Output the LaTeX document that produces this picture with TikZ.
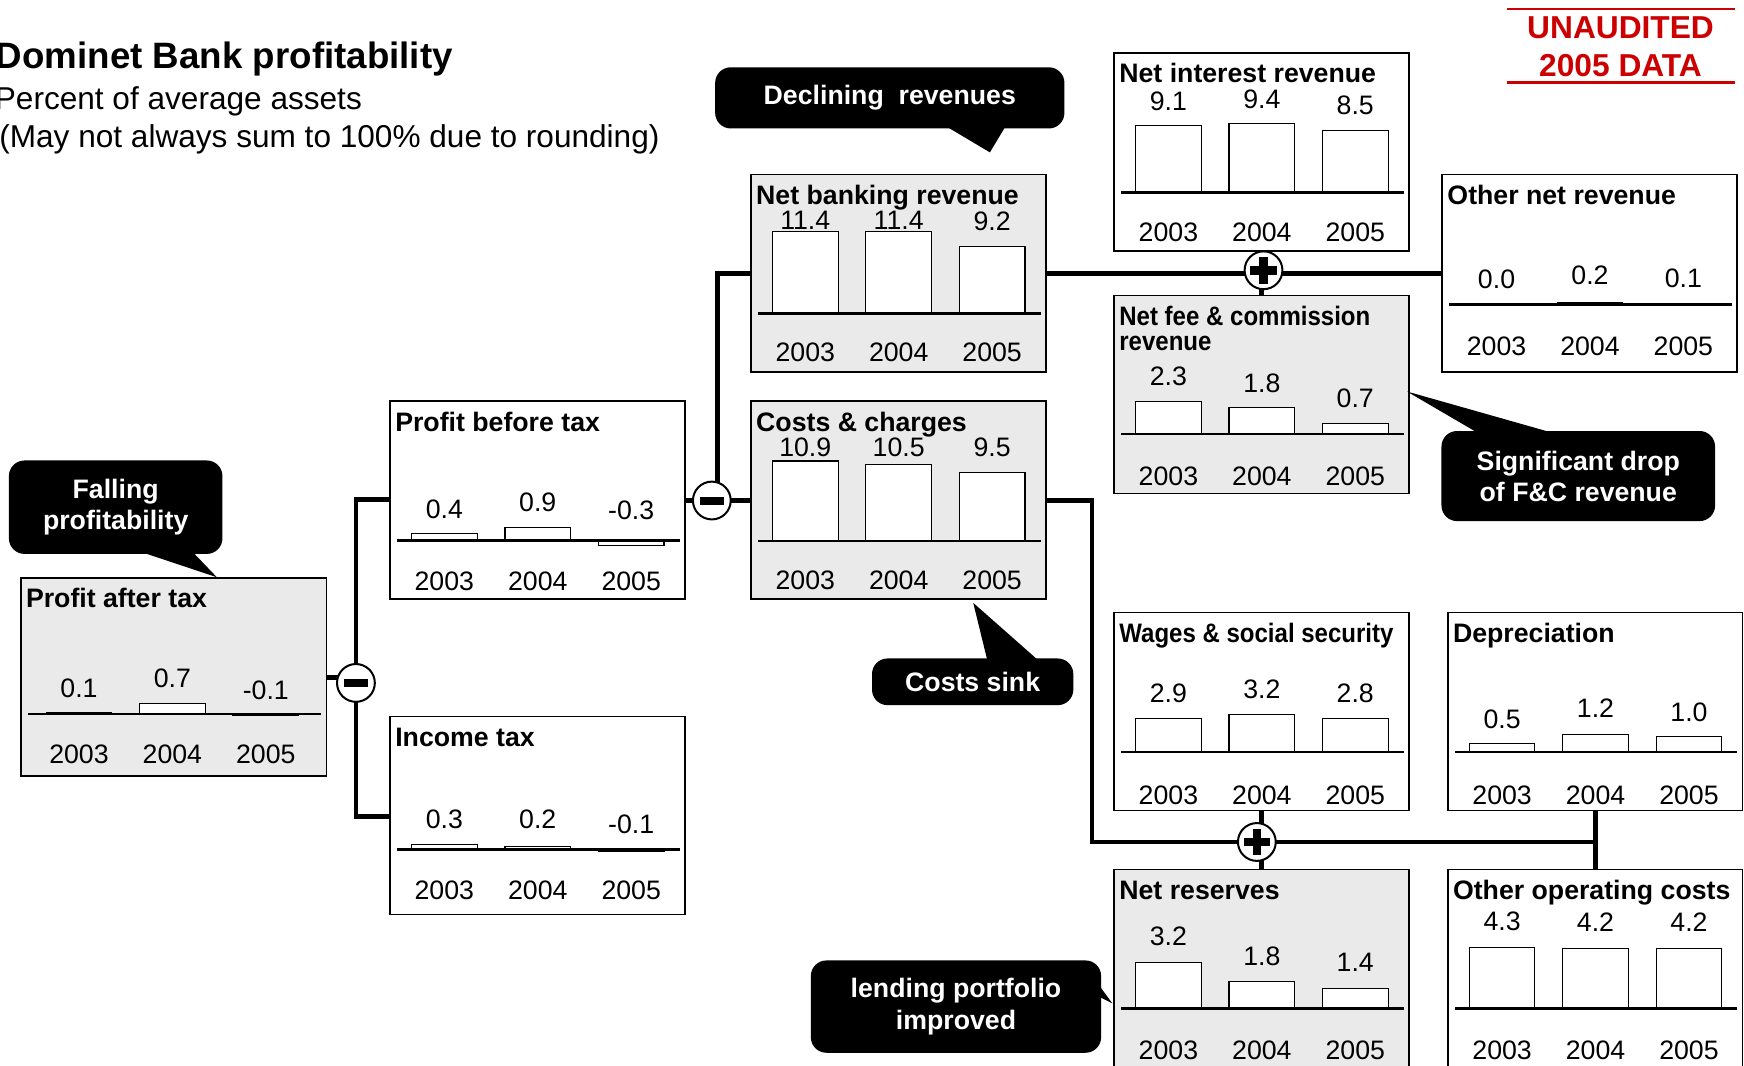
\documentclass[tikz,border=0pt]{standalone}
\usepackage{fontspec}
\setmainfont{Liberation Sans}
\usetikzlibrary{calc,backgrounds}
\definecolor{udred}{RGB}{204,0,0}
\definecolor{boxgrey}{RGB}{234,234,234}
\tikzset{
  chartbox/.style={draw, line width=0.7pt, inner sep=0pt, minimum height=89pt},
  greybox/.style={fill=boxgrey},
  whitebox/.style={fill=white},
  ttl/.style={font=\bfseries\fontsize{12}{14}\selectfont, inner sep=0pt},
  val/.style={font=\fontsize{12}{14}\selectfont, inner sep=0pt},
  barrect/.style={draw, fill=white, line width=0.5pt},
  axisline/.style={line width=1.2pt},
  conn/.style={line width=2.1pt},
  op/.style={circle, draw, fill=white, minimum size=17pt, inner sep=0pt, line width=0.9pt},
  minusop/.style={op, path picture={\fill[black] ([shift={(-5.5pt,-1.8pt)}]path picture bounding box.center) rectangle ++(11pt,3.6pt);}},
  plusop/.style={op, path picture={
      \fill[black] ([shift={(-6pt,-1.9pt)}]path picture bounding box.center) rectangle ++(12pt,3.8pt);
      \fill[black] ([shift={(-1.9pt,-6pt)}]path picture bounding box.center) rectangle ++(3.8pt,12pt);}},
  callout/.style={fill=black, text=white, rounded corners=7pt, font=\bfseries\fontsize{12}{14}\selectfont, align=center, inner sep=0pt},
  udtxt/.style={text=udred, font=\bfseries\fontsize{14.25}{17}\selectfont, inner sep=0pt},
  udline/.style={draw=udred, line width=1.2pt},
  headtxt/.style={anchor=base west, inner sep=0pt}
}
% #1 name, #2 fill style, #3 x, #4 y, #5 width, #6 title, #7 baseline, #8 year label y, #9 list h/labely/label
\newcommand\chart[9]{%
  \node[chartbox,#2,minimum width=#5*0.5pt,anchor=north west] (#1) at (#3,#4) {};
  \pgfmathsetmacro\chOff{(#5-265)*0.35}
  \foreach \h/\ly/\lab [count=\i from 0] in {#9} {
    \pgfmathsetmacro\cx{#3+49.5+84*\i+\chOff}
    \pgfmathsetmacro\cy{#4+#7-(\h)}
    \draw[barrect] ({\cx-29.5},{#4+#7}) rectangle ({\cx+29.5},\cy);
    \node[val] (#1-v\i) at (\cx,{#4+\ly}) {\lab};
    \node[val] (#1-y\i) at (\cx,{#4+#8}) {\the\numexpr2003+\i\relax};
  }
  \draw[axisline] ({#3+7},{#4+#7}) -- ({#3+#5-4},{#4+#7});
  \node[ttl,anchor=base west] (#1-t) at ({#3+5},{#4+27.5}) {#6};
}
\begin{document}
\begin{tikzpicture}[x=0.5pt,y=-0.5pt]
\useasboundingbox (0,0) rectangle (1568,958);

% heading
\node[headtxt, font=\bfseries\fontsize{16.5}{20}\selectfont] (title) at (-4,61.5) {Dominet Bank profitability};
\node[headtxt, font=\fontsize{14.2}{17}\selectfont] (sub1) at (-5,98.5) {Percent of average assets};
\node[headtxt, font=\fontsize{14.2}{17}\selectfont] (sub2) at (-1,132.5) {(May not always sum to 100\% due to rounding)};

% unaudited
\node[udtxt] (ua1) at (1457,25) {UNAUDITED};
\node[udtxt] (ua2) at (1457,59) {2005 DATA};
\draw[udline] (1355,8) -- (1560,8);
\draw[udline] (1355,74) -- (1560,74);

% charts
\chart{PAT}{greybox}{18}{519}{275}{Profit after tax}{123}{159}{1.2/100/0.1, 9.6/91/0.7, -1.2/101.5/-0.1}
\chart{PBT}{whitebox}{350}{360}{265}{Profit before tax}{126}{163}{6/97.6/0.4, 11.4/91.4/0.9, -4.6/99.2/-0.3}
\chart{IT}{whitebox}{350}{643.5}{265}{Income tax}{120.3}{157}{4.2/93/0.3, 2.8/93/0.2, -2/97.6/-0.1}
\chart{NBR}{greybox}{674.5}{156}{265}{Net banking revenue}{126}{161}{74/42/11.4, 74/42/11.4, 60/43/9.2}
\chart{CC}{greybox}{674.5}{360}{265}{Costs \& charges}{126.5}{162}{72/42/10.9, 69/42/10.5, 62/42/9.5}
\chart{NIR}{whitebox}{1001}{47}{265}{Net interest revenue}{126}{162}{60/44.4/9.1, 61.7/42/9.4, 55.7/48/8.5}
\chart{ONR}{whitebox}{1296}{156}{265}{Other net revenue}{117.6}{155.5}{0/95/0.0, 2/91.5/0.2, 1/94/0.1}
\chart{NFC}{greybox}{1001}{265}{265}{\scalebox{0.9}[1]{Net fee \& commission}}{125.3}{163.6}{29.7/73.7/2.3, 24/80/1.8, 9.7/93/0.7}
\node[ttl,anchor=base west] (NFC-t2) at ($(NFC.north west)+(5,50)$) {\scalebox{0.9}[1]{revenue}};
\chart{WSS}{whitebox}{1001}{550}{265}{\scalebox{0.9}[1]{Wages \& social security}}{126}{165}{30/73/2.9, 34/70/3.2, 30/73/2.8}
\chart{DEP}{whitebox}{1301}{550}{265}{Depreciation}{126}{165}{7.5/97/0.5, 16/87/1.2, 13.5/90/1.0}
\chart{NR}{greybox}{1001}{781}{265}{Net reserves}{125.5}{163}{41/60.5/3.2, 24/78.5/1.8, 18/84.5/1.4}
\chart{OOC}{whitebox}{1301}{781}{265}{Other operating costs}{126}{163}{55.5/47/4.3, 54/48.5/4.2, 54/48.5/4.2}

% operators
\node[minusop] (m1) at (320,614) {};
\node[minusop] (m2) at (640,450) {};
\node[plusop] (p1) at (1136,243) {};
\node[plusop] (p2) at (1130,757) {};

% callouts
\node[callout, minimum width=96pt, minimum height=42pt] (c1) at (104,456) {Falling\\profitability};
\fill (120,494) -- (195,519) -- (171,494) -- cycle;
\node[callout, minimum width=157pt, minimum height=27.5pt] (c2) at (800,88) {Declining\ \ revenues};
\fill (848,112) -- (890,137) -- (905,112) -- cycle;
\node[callout, minimum width=90.5pt, minimum height=21pt] (c3) at (874.5,613) {Costs sink};
\fill (888,595) -- (875,542) -- (935,595) -- cycle;
\node[callout, minimum width=123pt, minimum height=40.5pt] (c4) at (1419,428) {Significant drop\\of F\&C revenue};
\fill (1330,390) -- (1265,352) -- (1399,390) -- cycle;
\node[callout, minimum width=130.5pt, minimum height=41.5pt] (c5) at (859.5,905) {lending portfolio\\improved};
\fill (975,868) -- (1000,902) -- (986,895) -- cycle;

% connectors
\begin{pgfonlayer}{background}
\draw[conn] ($(PBT.north west)+(0,89)$) -| (m1.center);
\draw[conn] ($(IT.north west)+(0,90.5)$) -| (m1.center);
\draw[conn] ($(PAT.north east)+(0,90)$) -- ++(15,0);
\draw[conn] (PBT.east) -- (CC.west);
\draw[conn] (NBR.west) -| ($(m2.center)+(5,0)$);
\draw[conn] (NBR.east) -- (ONR.west);
\draw[conn] (NIR.south) -- (NFC.north);
\draw[conn] (CC.east) -- ++(41,0) |- (DEP.south |- p2.center);
\draw[conn] (DEP.south) -- (OOC.north);
\draw[conn] (WSS.south) -- (WSS.south |- NR.north);
\end{pgfonlayer}
\end{tikzpicture}
\end{document}
